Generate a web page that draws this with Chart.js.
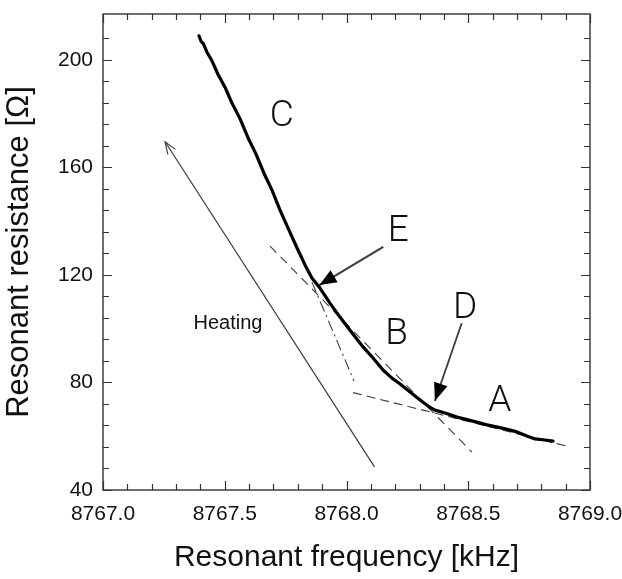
<!DOCTYPE html>
<html>
<head>
<meta charset="utf-8">
<title>Resonant resistance vs resonant frequency</title>
<script src="https://cdn.jsdelivr.net/npm/chart.js@4"></script>
<style>
  html, body { margin: 0; padding: 0; background: #fff; }
  #wrap { width: 622px; height: 579px; }
</style>
</head>
<body>
<div id="wrap"><canvas id="myChart"></canvas></div>
<script>
const freq = [8767.394, 8767.404, 8767.411, 8767.427, 8767.448, 8767.472, 8767.501, 8767.530,
  8767.563, 8767.595, 8767.628, 8767.661, 8767.694, 8767.727, 8767.760, 8767.797, 8767.830,
  8767.858, 8767.891, 8767.932, 8767.973, 8768.023, 8768.068, 8768.109, 8768.150, 8768.187,
  8768.220, 8768.261, 8768.302, 8768.335, 8768.363, 8768.405, 8768.454, 8768.515, 8768.577,
  8768.639, 8768.700, 8768.741, 8768.774, 8768.815, 8768.848];
const resistance = [208.9, 206.6, 206.2, 202.8, 199.5, 194.6, 189.8, 183.8,
  178.0, 171.1, 165.0, 157.8, 151.5, 144.1, 137.4, 130.0, 123.6,
  118.8, 115.1, 109.5, 104.3, 98.4, 93.2, 89.1, 84.6, 81.6,
  79.4, 76.4, 73.5, 71.2, 69.7, 68.6, 67.1, 65.7, 64.2,
  63.0, 61.6, 60.1, 59.0, 58.6, 58.2];

// straight guide lines (start, end)
const tangentBX = [8767.686, 8768.515], tangentBY = [130.7, 54.1];
const tangentCX = [8767.858, 8768.031], tangentCY = [117.3, 80.5];
const tangentAX = [8768.027, 8768.918], tangentAY = [76.2, 56.0];

// arrows (tail, tip)
const heatX = [8768.115, 8767.255], heatY = [48.6, 169.5];
const arrowEX = [8768.151, 8767.889], arrowEY = [130.4, 116.2];
const arrowDX = [8768.473, 8768.363], arrowDY = [102.0, 73.1];

// text labels
const labelText = ['C', 'E', 'B', 'D', 'A'];
const labelX = [8767.734, 8768.213, 8768.206, 8768.487, 8768.630];
const labelY = [178.7, 136.0, 97.6, 107.5, 72.8];
const heatLabel = 'Heating', heatLabelX = 8767.513, heatLabelY = 102.1;

const pts = (xs, ys) => xs.map((x, i) => ({ x: x, y: ys[i] }));
const thin = (xs, ys, dash, w) => ({
  data: pts(xs, ys), showLine: true, pointRadius: 0,
  borderColor: '#3a3a3a', borderWidth: w || 1.1, borderDash: dash || [], tension: 0
});

const SANS = '"Liberation Sans", Arial, sans-serif';

// frame, inward ticks, arrowheads and letters
const decor = {
  id: 'decor',
  afterDatasetsDraw(chart) {
    const { ctx, chartArea: a, scales: { x, y } } = chart;
    ctx.save();
    ctx.strokeStyle = '#333';
    ctx.lineWidth = 1.4;
    ctx.strokeRect(a.left, a.top, a.right - a.left, a.bottom - a.top);
    ctx.lineWidth = 1.2;
    ctx.beginPath();
    x.ticks.forEach(t => {
      const v = t.value;
      if (Math.abs(v * 10 - Math.round(v * 10)) > 1e-6) return;
      const major = Math.abs(v * 2 - Math.round(v * 2)) < 1e-6;
      const len = major ? 9 : 6, px = Math.round(x.getPixelForValue(v)) + 0.5;
      ctx.moveTo(px, a.bottom); ctx.lineTo(px, a.bottom - len);
      ctx.moveTo(px, a.top); ctx.lineTo(px, a.top + len);
    });
    y.ticks.forEach(t => {
      const v = t.value;
      if (Math.abs(v / 8 - Math.round(v / 8)) > 1e-6) return;
      const major = v % 40 === 0;
      const len = major ? 9 : 6, py = Math.round(y.getPixelForValue(v)) + 0.5;
      ctx.moveTo(a.left, py); ctx.lineTo(a.left + len, py);
      ctx.moveTo(a.right, py); ctx.lineTo(a.right - len, py);
    });
    ctx.stroke();

    const head = (xs, ys, len, half, filled) => {
      const x0 = x.getPixelForValue(xs[0]), y0 = y.getPixelForValue(ys[0]);
      const x1 = x.getPixelForValue(xs[1]), y1 = y.getPixelForValue(ys[1]);
      const ang = Math.atan2(y1 - y0, x1 - x0);
      const bx = x1 - len * Math.cos(ang), by = y1 - len * Math.sin(ang);
      const nx = -Math.sin(ang) * half, ny = Math.cos(ang) * half;
      ctx.beginPath();
      ctx.moveTo(bx + nx, by + ny);
      ctx.lineTo(x1, y1);
      ctx.lineTo(bx - nx, by - ny);
      if (filled) { ctx.closePath(); ctx.fillStyle = '#000'; ctx.fill(); }
      else { ctx.strokeStyle = '#3a3a3a'; ctx.lineWidth = 1.1; ctx.stroke(); }
    };
    head(heatX, heatY, 12, 4.5, false);
    head(arrowEX, arrowEY, 17, 7, true);
    head(arrowDX, arrowDY, 18, 7, true);

    ctx.fillStyle = '#111';
    ctx.textAlign = 'center';
    ctx.textBaseline = 'middle';
    ctx.font = '300 37px Roboto, "Liberation Sans", sans-serif';
    labelText.forEach((s, i) => {
      ctx.fillText(s, x.getPixelForValue(labelX[i]), y.getPixelForValue(labelY[i]));
    });
    ctx.font = '20px ' + SANS;
    ctx.fillText(heatLabel, x.getPixelForValue(heatLabelX), y.getPixelForValue(heatLabelY));
    ctx.restore();
  }
};

new Chart(document.getElementById('myChart'), {
  type: 'scatter',
  data: {
    datasets: [
      { data: pts(freq, resistance), showLine: true, pointRadius: 0, borderColor: '#000',
        borderWidth: 3.2, tension: 0, borderJoinStyle: 'round', borderCapStyle: 'round' },
      thin(tangentBX, tangentBY, [9, 6]),
      thin(tangentCX, tangentCY, [11, 4, 2, 4]),
      thin(tangentAX, tangentAY, [9, 5]),
      thin(heatX, heatY, [], 1.2),
      thin(arrowEX, arrowEY, [], 2),
      thin(arrowDX, arrowDY, [], 1.8)
    ]
  },
  options: {
    responsive: true,
    maintainAspectRatio: false,
    animation: false,
    layout: { padding: { left: 0, right: 32, top: 14, bottom: 0 } },
    plugins: { legend: { display: false }, tooltip: { enabled: false } },
    scales: {
      x: {
        type: 'linear', min: 8767, max: 8769,
        grid: { display: false, drawTicks: false }, border: { display: false },
        ticks: {
          stepSize: 0.1, autoSkip: false, maxRotation: 0, padding: 12,
          color: '#111', font: { family: SANS, size: 21 },
          callback: v => Math.abs(v * 2 - Math.round(v * 2)) < 1e-6 ? v.toFixed(1) : ''
        },
        title: { display: true, text: 'Resonant frequency [kHz]', color: '#111',
          font: { family: SANS, size: 30 }, padding: { top: 0, bottom: 3 } },
        afterFit: s => { s.height = 89; s.paddingLeft = 0; s.paddingRight = 0; }
      },
      y: {
        type: 'linear', min: 40, max: 217,
        grid: { display: false, drawTicks: false }, border: { display: false },
        ticks: {
          stepSize: 8, autoSkip: false, padding: 10,
          color: '#111', font: { family: SANS, size: 21 },
          callback: v => v % 40 === 0 ? String(v) : ''
        },
        title: { display: true, text: 'Resonant resistance [Ω]', color: '#111',
          font: { family: SANS, size: 31 }, padding: { top: 1, bottom: 0 } },
        afterFit: s => { s.width = 103; s.paddingTop = 0; s.paddingBottom = 0; }
      }
    }
  },
  plugins: [decor]
});
</script>
</body>
</html>
